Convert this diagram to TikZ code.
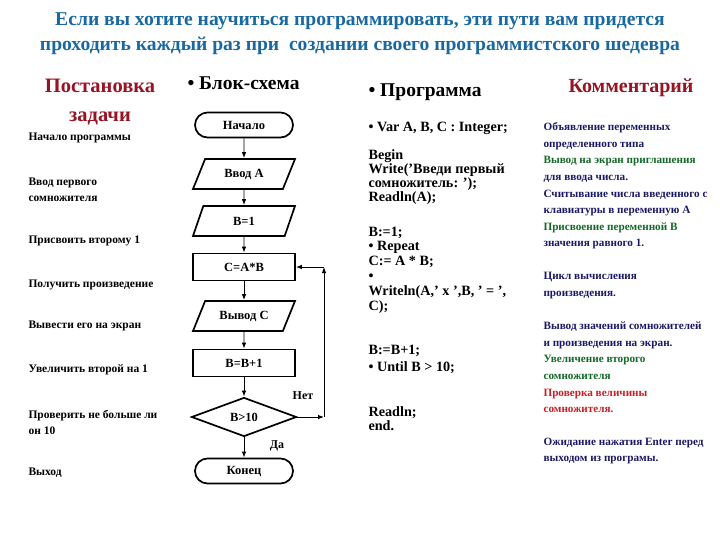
\documentclass[tikz,border=0pt]{standalone}
\usepackage{fontspec}
\setmainfont{Liberation Serif}
\usetikzlibrary{shapes.geometric,shapes.misc,arrows.meta}

\definecolor{titleblue}{RGB}{25,105,160}
\definecolor{headred}{RGB}{150,20,35}
\definecolor{navy}{RGB}{25,25,100}
\definecolor{leafgreen}{RGB}{20,105,40}
\definecolor{warnred}{RGB}{205,30,35}

\tikzset{
  block/.style={draw, line width=1.7pt, minimum width=102pt, minimum height=27pt, inner sep=2pt,
    font=\bfseries\fontsize{12.5}{13}\selectfont},
  term/.style={block, rounded rectangle, minimum height=25pt},
  io/.style={block, trapezium, trapezium left angle=50, trapezium right angle=130,
    trapezium stretches body, minimum height=30pt},
  cond/.style={block, diamond, aspect=2.7, minimum width=105pt, minimum height=39pt, inner sep=0pt},
  flow/.style={-{Latex[length=6pt,width=4.5pt]}, line width=0.9pt},
  task/.style={anchor=west, align=left, font=\bfseries\fontsize{11.5}{16}\selectfont},
  code/.style={anchor=west, align=left, font=\bfseries\fontsize{14.2}{14}\selectfont},
  note/.style={anchor=west, align=left, text=navy, font=\bfseries\fontsize{11.2}{16.6}\selectfont},
  head/.style={font=\bfseries\fontsize{19.5}{29}\selectfont}
}

\begin{document}
\begin{tikzpicture}[x=1pt,y=-1pt]
  \useasboundingbox (0,0) rectangle (720,540);

  % title
  \node[text=titleblue, align=center, font=\bfseries\fontsize{19.6}{25}\selectfont] (title) at (360,34)
    {Если вы хотите научиться программировать, эти пути вам придется\\
     проходить каждый раз при\ \ создании своего программистского шедевра};

  % column heads
  \node[head, text=headred, align=center, font=\bfseries\fontsize{20.5}{29}\selectfont] (hTask) at (100,102) {Постановка\\задачи};
  \node[head, anchor=west] (hChart) at (184,83) {• Блок-схема};
  \node[head, anchor=west] (hProg) at (365,92) {• Программа};
  \node[head, text=headred, font=\bfseries\fontsize{20}{29}\selectfont] (hNote) at (631,88) {Комментарий};

  % task column
  \node[task] (t1) at (25,138) {Начало программы};
  \node[task] (t2) at (25,190) {Ввод первого\\сомножителя};
  \node[task] (t3) at (25,241) {Присвоить второму 1};
  \node[task] (t4) at (25,285) {Получить произведение};
  \node[task] (t5) at (25,326) {Вывести его на экран};
  \node[task] (t6) at (25,370) {Увеличить второй на 1};
  \node[task] (t7) at (25,422) {Проверить не больше ли\\он 10};
  \node[task] (t8) at (25,473) {Выход};

  % flowchart
  \node[term] (start) at (244,125) {Начало};
  \node[io] (inA) at (244,174) {Ввод А};
  \node[io] (setB) at (244,221) {В=1};
  \node[block] (mult) at (244,267) {С=А*В};
  \node[io] (outC) at (244,316) {Вывод С};
  \node[block] (incB) at (244,363) {В=В+1};
  \node[cond] (test) at (244,417) {В>10};
  \node[term] (stop) at (244,471) {Конец};

  \draw[flow] (start) -- (inA);
  \draw[flow] (inA) -- (setB);
  \draw[flow] (setB) -- (mult);
  \draw[flow] (mult) -- (outC);
  \draw[flow] (outC) -- (incB);
  \draw[flow] (incB) -- (test);
  \draw[flow] (test) -- (stop);

  \coordinate (loopA) at (324,417);
  \coordinate (loopB) at (324,267);
  \draw[flow] (test.east) -- (loopA);
  \draw[flow] (loopA) -- (loopB);
  \draw[flow] (loopB) -- (mult.east);
  \node[font=\bfseries\fontsize{12}{13}\selectfont] (no) at (303,396) {Нет};
  \node[font=\bfseries\fontsize{12}{13}\selectfont] (yes) at (277,446) {Да};

  % program column
  \node[code] (p1) at (365,128) {• Var A, B, C : Integer;};
  \node[code] (p2) at (365,177.5) {Begin\\Write('Введи первый\\сомножитель: ');\\Readln(A);};
  \node[code, font=\bfseries\fontsize{14.2}{14.8}\selectfont] (p3) at (365,270)
    {B:=1;\\• Repeat\\C:= A * B;\\•\\Writeln(A,' x ',B, ' = ',\\C);};
  \node[code, font=\bfseries\fontsize{14.2}{17}\selectfont] (p4) at (365,359.5) {B:=B+1;\\• Until B > 10;};
  \node[code] (p5) at (365,419) {Readln;\\end.};

  % comment column
  \node[note] (n1) at (540,186) {Объявление переменных\\определенного типа\\
    \textcolor{leafgreen}{Вывод на экран приглашения}\\для ввода числа.\\
    Считывание числа введенного с\\клавиатуры в переменную А\\
    \textcolor{leafgreen}{Присвоение переменной В}\\значения равного 1.};
  \node[note] (n2) at (540,285.5) {Цикл вычисления\\произведения.};
  \node[note] (n3) at (540,367.5) {Вывод значений сомножителей\\и произведения на экран.\\
    \textcolor{leafgreen}{Увеличение второго}\\\textcolor{leafgreen}{сомножителя}\\
    \textcolor{warnred}{Проверка величины}\\\textcolor{warnred}{сомножителя.}};
  \node[note] (n4) at (540,451) {Ожидание нажатия Enter перед\\выходом из програмы.};
\end{tikzpicture}
\end{document}
